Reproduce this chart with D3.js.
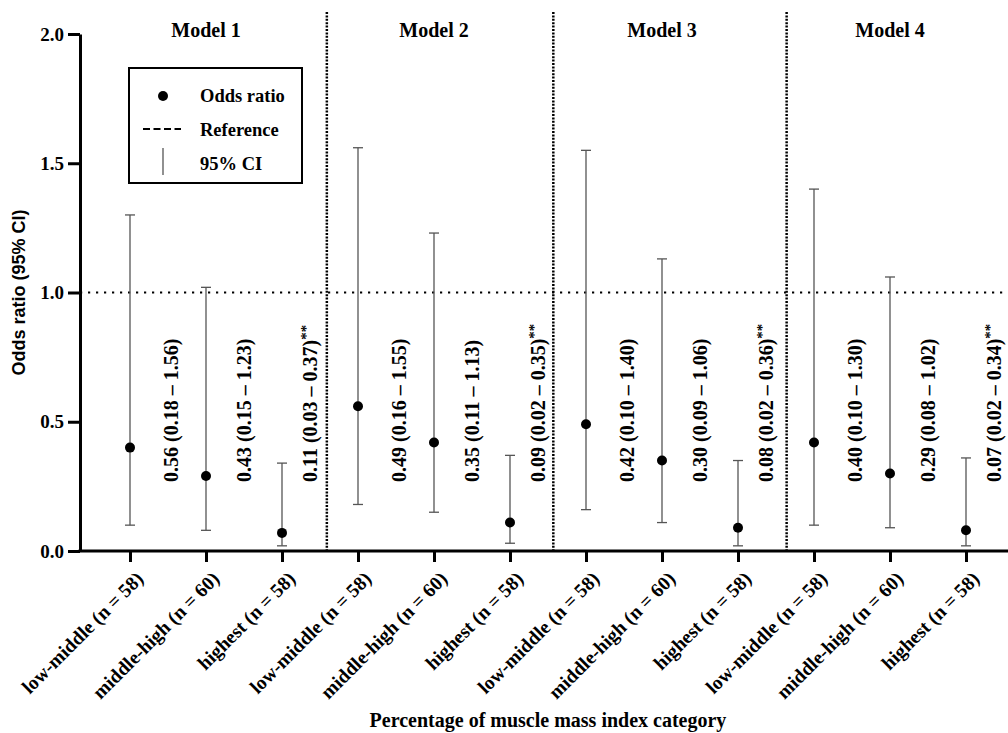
<!DOCTYPE html>
<html>
<head>
<meta charset="utf-8">
<script src="https://cdn.jsdelivr.net/npm/d3@7"></script>
<style>
    body { margin: 0; background: #fff; }
    text { font-family: "Liberation Serif", "Times New Roman", serif; font-weight: bold; fill: #000; }
</style>
</head>
<body>
<div id="chart"></div>
<script>
// categories along the x axis (3 per model)
var categories = [
    "low-middle (n = 58)", "middle-high (n = 60)", "highest (n = 58)",
    "low-middle (n = 58)", "middle-high (n = 60)", "highest (n = 58)",
    "low-middle (n = 58)", "middle-high (n = 60)", "highest (n = 58)",
    "low-middle (n = 58)", "middle-high (n = 60)", "highest (n = 58)"
];
var models = ["Model 1", "Model 2", "Model 3", "Model 4"];

// odds ratio and 95% CI as drawn
var oddsRatio = [0.40, 0.29, 0.07, 0.56, 0.42, 0.11, 0.49, 0.35, 0.09, 0.42, 0.30, 0.08];
var ciLow     = [0.10, 0.08, 0.02, 0.18, 0.15, 0.03, 0.16, 0.11, 0.02, 0.10, 0.09, 0.02];
var ciHigh    = [1.30, 1.02, 0.34, 1.56, 1.23, 0.37, 1.55, 1.13, 0.35, 1.40, 1.06, 0.36];

// annotation text printed beside each category
var valueLabels = [
    "0.56 (0.18 \u2013 1.56)", "0.43 (0.15 \u2013 1.23)", "0.11 (0.03 \u2013 0.37)",
    "0.49 (0.16 \u2013 1.55)", "0.35 (0.11 \u2013 1.13)", "0.09 (0.02 \u2013 0.35)",
    "0.42 (0.10 \u2013 1.40)", "0.30 (0.09 \u2013 1.06)", "0.08 (0.02 \u2013 0.36)",
    "0.40 (0.10 \u2013 1.30)", "0.29 (0.08 \u2013 1.02)", "0.07 (0.02 \u2013 0.34)"
];
var significance = ["", "", "**", "", "", "**", "", "", "**", "", "", "**"];

var yTicks = [0, 0.5, 1.0, 1.5, 2.0];
var referenceValue = 1.0;
// model dividers, in category units
var dividers = [2.59, 5.57, 8.64];

var width = 1008, height = 733;
var axisX = 80, axisY = 551, axisTop = 34;

var svg = d3.select("#chart").append("svg")
    .attr("width", width)
    .attr("height", height);

var x = d3.scaleLinear()
    .domain([0, categories.length - 1])
    .range([130, 966]);

var y = d3.scaleLinear()
    .domain([0, 2])
    .range([axisY, axisTop]);

// dotted model dividers
svg.selectAll(".divider")
    .data(dividers)
    .enter().append("line")
    .attr("class", "divider")
    .attr("x1", function (d) { return x(d); })
    .attr("x2", function (d) { return x(d); })
    .attr("y1", 12)
    .attr("y2", axisY)
    .style("stroke", "#000")
    .style("stroke-width", 2.5)
    .style("stroke-dasharray", "2,1.4");

// reference line at OR = 1
svg.append("line")
    .attr("x1", axisX)
    .attr("x2", width)
    .attr("y1", y(referenceValue))
    .attr("y2", y(referenceValue))
    .style("stroke", "#000")
    .style("stroke-width", 2.2)
    .style("stroke-dasharray", "2.2,5.8");

// model titles over the middle category of each group
svg.selectAll(".model-title")
    .data(models)
    .enter().append("text")
    .attr("class", "model-title")
    .attr("x", function (d, i) { return x(i * 3 + 1); })
    .attr("y", 37)
    .attr("text-anchor", "middle")
    .style("font-size", "20px")
    .text(function (d) { return d; });

// error bars
var bars = svg.selectAll(".ci")
    .data(oddsRatio)
    .enter().append("g")
    .attr("class", "ci")
    .attr("transform", function (d, i) { return "translate(" + x(i) + ",0)"; });

bars.append("line")
    .attr("y1", function (d, i) { return y(ciLow[i]); })
    .attr("y2", function (d, i) { return y(ciHigh[i]); })
    .style("stroke", "#555")
    .style("stroke-width", 1.3);

bars.append("line")
    .attr("x1", -5).attr("x2", 5)
    .attr("y1", function (d, i) { return y(ciHigh[i]); })
    .attr("y2", function (d, i) { return y(ciHigh[i]); })
    .style("stroke", "#555")
    .style("stroke-width", 1.3);

bars.append("line")
    .attr("x1", -5).attr("x2", 5)
    .attr("y1", function (d, i) { return y(ciLow[i]); })
    .attr("y2", function (d, i) { return y(ciLow[i]); })
    .style("stroke", "#555")
    .style("stroke-width", 1.3);

bars.append("circle")
    .attr("cy", function (d) { return y(d); })
    .attr("r", 5)
    .style("fill", "#000");

// rotated value labels
var labelOffset = [0.54, 0.5, 0.37];
var labels = svg.selectAll(".value-label")
    .data(valueLabels)
    .enter().append("text")
    .attr("class", "value-label")
    .attr("transform", function (d, i) {
        return "translate(" + x(i + labelOffset[i % 3]) + ",482) rotate(-90)";
    })
    .attr("dy", "0.35em")
    .style("font-size", "20px");

labels.append("tspan").text(function (d) { return d; });
labels.append("tspan")
    .attr("dy", "-0.4em")
    .style("font-size", "15px")
    .text(function (d, i) { return significance[i]; });

// y axis
var yAxis = d3.axisLeft(y)
    .tickValues(yTicks)
    .tickFormat(d3.format(".1f"))
    .tickSize(12)
    .tickSizeOuter(0);

var gy = svg.append("g")
    .attr("transform", "translate(" + axisX + ",0)")
    .call(yAxis);
gy.select(".domain").style("stroke-width", 3);
gy.selectAll(".tick line").style("stroke-width", 3);
gy.selectAll(".tick text")
    .attr("x", -16)
    .style("font-family", "Liberation Serif, serif")
    .style("font-weight", "bold")
    .style("font-size", "19px");

// x axis
var xAxis = d3.axisBottom(x)
    .tickValues(d3.range(categories.length))
    .tickFormat(function (d) { return categories[d]; })
    .tickSize(11)
    .tickSizeOuter(0);

var gx = svg.append("g")
    .attr("transform", "translate(0," + axisY + ")")
    .call(xAxis);
gx.select(".domain").remove();
gx.append("line")
    .attr("x1", axisX - 1.5)
    .attr("x2", width)
    .style("stroke", "#000")
    .style("stroke-width", 3);
gx.selectAll(".tick line").style("stroke-width", 3);
gx.selectAll(".tick text")
    .attr("x", 0)
    .attr("y", 0)
    .attr("dy", 0)
    .attr("text-anchor", "end")
    .attr("transform", "translate(14,29) rotate(-45)")
    .style("font-family", "Liberation Serif, serif")
    .style("font-weight", "bold")
    .style("font-size", "19.5px");

// axis titles
svg.append("text")
    .attr("x", (axisX + width) / 2 + 4)
    .attr("y", 727)
    .attr("text-anchor", "middle")
    .style("font-size", "20px")
    .text("Percentage of muscle mass index category");

svg.append("text")
    .attr("transform", "translate(25," + y(1.0) + ") rotate(-90)")
    .attr("text-anchor", "middle")
    .style("font-family", "Liberation Sans, Arial, sans-serif")
    .style("font-size", "18px")
    .text("Odds ratio (95% CI)");

// legend
var legend = svg.append("g").attr("class", "legend");
legend.append("rect")
    .attr("x", 129).attr("y", 68)
    .attr("width", 173).attr("height", 115)
    .style("fill", "#fff")
    .style("stroke", "#000")
    .style("stroke-width", 2);

legend.append("circle")
    .attr("cx", 163).attr("cy", 96).attr("r", 5)
    .style("fill", "#000");
legend.append("line")
    .attr("x1", 143).attr("x2", 181)
    .attr("y1", 129).attr("y2", 129)
    .style("stroke", "#000")
    .style("stroke-width", 2)
    .style("stroke-dasharray", "7,3.5");
legend.append("line")
    .attr("x1", 163).attr("x2", 163)
    .attr("y1", 148).attr("y2", 175)
    .style("stroke", "#555")
    .style("stroke-width", 1.3);

legend.selectAll(".legend-text")
    .data(["Odds ratio", "Reference", "95% CI"])
    .enter().append("text")
    .attr("x", 200)
    .attr("y", function (d, i) { return 102 + i * 34; })
    .style("font-size", "18.5px")
    .text(function (d) { return d; });
</script>
</body>
</html>
